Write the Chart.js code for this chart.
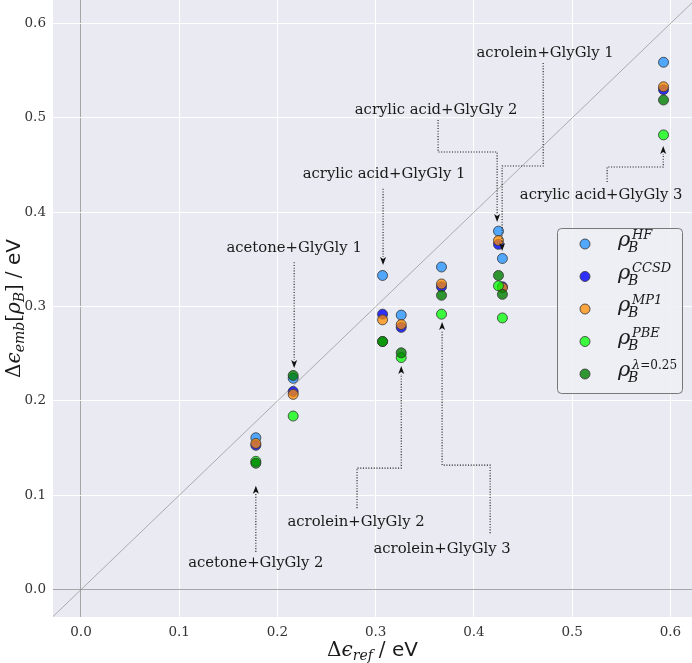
<!DOCTYPE html>
<html>
<head>
<meta charset="utf-8">
<script src="https://cdn.jsdelivr.net/npm/chart.js@4.4.1/dist/chart.umd.min.js"></script>
<style>
  html, body { margin: 0; padding: 0; background: #fff; }
  #grafico { display: block; }
</style>
</head>
<body>
<canvas id="grafico" width="692" height="663"></canvas>
<script>
// valores (eV)
const sistemas = ["acetone+GlyGly 2", "acetone+GlyGly 1", "acrylic acid+GlyGly 1", "acrolein+GlyGly 2",
                  "acrolein+GlyGly 3", "acrylic acid+GlyGly 2", "acrolein+GlyGly 1", "acrylic acid+GlyGly 3"];
const deltaRef  = [0.178, 0.216, 0.307, 0.326, 0.367, 0.425, 0.429, 0.593];
const rhoHF     = [0.161, 0.224, 0.333, 0.291, 0.342, 0.380, 0.351, 0.559];
const rhoCCSD   = [0.153, 0.210, 0.292, 0.278, 0.321, 0.366, 0.321, 0.530];
const rhoMP1    = [0.155, 0.207, 0.286, 0.281, 0.324, 0.370, 0.320, 0.533];
const rhoPBE    = [0.136, 0.184, 0.263, 0.246, 0.292, 0.322, 0.288, 0.482];
const rhoLambda = [0.134, 0.227, 0.263, 0.251, 0.312, 0.333, 0.313, 0.519];
const ticksX = [0.0, 0.1, 0.2, 0.3, 0.4, 0.5, 0.6];
const ticksY = [0.0, 0.1, 0.2, 0.3, 0.4, 0.5, 0.6];
const sobrescritos = ["HF", "CCSD", "MP1", "PBE", "λ=0.25"];

// anotações: posição do texto e caminho da seta, em coordenadas de dados
const anotacoes = [
  { texto: sistemas[0], pos: [0.178, 0.028], caminho: [[0.178, 0.040], [0.178, 0.110]] },
  { texto: sistemas[1], pos: [0.217, 0.362], caminho: [[0.217, 0.347], [0.217, 0.235]] },
  { texto: sistemas[2], pos: [0.3085, 0.4406], caminho: [[0.3075, 0.425], [0.3075, 0.344]] },
  { texto: sistemas[3], pos: [0.280, 0.0716], caminho: [[0.281, 0.0864], [0.281, 0.1288], [0.326, 0.1288], [0.326, 0.237]] },
  { texto: sistemas[4], pos: [0.3676, 0.0429], caminho: [[0.4165, 0.0599], [0.4165, 0.132], [0.3676, 0.132], [0.3676, 0.2837]] },
  { texto: sistemas[5], pos: [0.3615, 0.5085], caminho: [[0.3635, 0.4979], [0.3635, 0.4639], [0.4236, 0.4639], [0.4236, 0.3897]] },
  { texto: sistemas[6], pos: [0.4725, 0.569], caminho: [[0.4705, 0.5583], [0.4705, 0.449], [0.4287, 0.449], [0.4287, 0.359]] },
  { texto: sistemas[7], pos: [0.5295, 0.418], caminho: [[0.5356, 0.4321], [0.5356, 0.448], [0.5927, 0.448], [0.5927, 0.4703]] }
];

const cores = ["rgba(30,144,255,0.75)", "rgba(0,0,255,0.8)", "rgba(255,140,0,0.75)", "rgba(0,255,0,0.75)", "rgba(0,128,0,0.8)"];
const serie = [rhoHF, rhoCCSD, rhoMP1, rhoPBE, rhoLambda];

const SERIF = '"DejaVu Serif", serif';
const SANS = '"DejaVu Sans", sans-serif';

function pontos(valores) {
  return valores.map((v, i) => ({ x: deltaRef[i], y: v }));
}

// desenha texto com trechos de fontes e deslocamentos diferentes
function textoRico(ctx, partes, x, y, alinhar) {
  let largura = 0;
  partes.forEach(p => { ctx.font = p.fonte; p.w = ctx.measureText(p.t).width; largura += p.w + (p.gap || 0); });
  let cx = alinhar === "center" ? x - largura / 2 : x;
  ctx.textAlign = "left";
  ctx.textBaseline = "alphabetic";
  partes.forEach(p => {
    ctx.font = p.fonte;
    ctx.fillText(p.t, cx, y + (p.dy || 0));
    cx += p.w + (p.gap || 0);
  });
}

// área do gráfico ocupando todo o topo, como no original
const areaPlugin = {
  id: "area",
  afterLayout(chart) {
    const a = chart.chartArea;
    const y = chart.scales.y;
    a.top = 0;
    a.right = 692;
    a.height = a.bottom - a.top;
    a.width = a.right - a.left;
    y.top = 0;
    y.height = y.bottom - y.top;
    y.configure();
    const x = chart.scales.x;
    x.right = 692;
    x.width = x.right - x.left;
    x.configure();
  }
};

const fundoPlugin = {
  id: "fundo",
  beforeDraw(chart) {
    const { ctx, chartArea: a } = chart;
    ctx.save();
    ctx.fillStyle = "#EAEAF2";
    ctx.fillRect(a.left, a.top, a.right - a.left, a.bottom - a.top);
    ctx.restore();
  }
};

const anotacoesPlugin = {
  id: "anotacoes",
  afterDatasetsDraw(chart) {
    const { ctx, scales: { x, y } } = chart;
    ctx.save();
    anotacoes.forEach(an => {
      const pts = an.caminho.map(p => [x.getPixelForValue(p[0]), y.getPixelForValue(p[1])]);
      const n = pts.length;
      const [xf, yf] = pts[n - 1];
      const [xa, ya] = pts[n - 2];
      const len = Math.hypot(xf - xa, yf - ya);
      const ux = (xf - xa) / len, uy = (yf - ya) / len;
      const cab = 8;
      ctx.strokeStyle = "#222";
      ctx.lineWidth = 1.1;
      ctx.setLineDash([1.1, 1.6]);
      ctx.beginPath();
      ctx.moveTo(pts[0][0], pts[0][1]);
      for (let i = 1; i < n - 1; i++) ctx.lineTo(pts[i][0], pts[i][1]);
      ctx.lineTo(xf - ux * cab, yf - uy * cab);
      ctx.stroke();
      ctx.setLineDash([]);
      ctx.fillStyle = "#111";
      ctx.beginPath();
      ctx.moveTo(xf, yf);
      ctx.lineTo(xf - ux * cab - uy * 3, yf - uy * cab + ux * 3);
      ctx.lineTo(xf - ux * (cab - 2), yf - uy * (cab - 2));
      ctx.lineTo(xf - ux * cab + uy * 3, yf - uy * cab - ux * 3);
      ctx.closePath();
      ctx.fill();

      ctx.fillStyle = "#1a1a1a";
      ctx.font = "14.8px " + SERIF;
      ctx.textAlign = "center";
      ctx.textBaseline = "middle";
      ctx.fillText(an.texto, x.getPixelForValue(an.pos[0]), y.getPixelForValue(an.pos[1]));
    });
    ctx.restore();
  },
  afterDraw(chart) {
    const { ctx, chartArea: a } = chart;
    ctx.save();
    ctx.fillStyle = "#1a1a1a";
    // título do eixo x
    textoRico(ctx, [
      { t: "Δ", fonte: "20px " + SERIF },
      { t: "ϵ", fonte: "italic 20px " + SERIF },
      { t: "ref", fonte: "italic 14px " + SERIF, dy: 4, gap: 6 },
      { t: "/ ", fonte: "20px " + SERIF },
      { t: "eV", fonte: "20px " + SANS }
    ], (a.left + a.right) / 2, 656, "center");
    // título do eixo y
    ctx.translate(20, (a.top + a.bottom) / 2);
    ctx.rotate(-Math.PI / 2);
    textoRico(ctx, [
      { t: "Δ", fonte: "20px " + SERIF },
      { t: "ϵ", fonte: "italic 20px " + SERIF },
      { t: "emb", fonte: "italic 14px " + SERIF, dy: 4 },
      { t: "[", fonte: "20px " + SERIF },
      { t: "ρ", fonte: "italic 20px " + SERIF },
      { t: "B", fonte: "italic 14px " + SERIF, dy: 4 },
      { t: "]", fonte: "20px " + SERIF, gap: 6 },
      { t: "/ ", fonte: "20px " + SERIF },
      { t: "eV", fonte: "20px " + SANS }
    ], 0, 0, "center");
    ctx.restore();

    // legenda
    ctx.save();
    const caixa = { x: 557, y: 228, w: 125, h: 165 };
    ctx.fillStyle = "rgba(238,238,245,0.9)";
    ctx.strokeStyle = "#777";
    ctx.lineWidth = 1;
    ctx.beginPath();
    ctx.roundRect(caixa.x + 0.5, caixa.y + 0.5, caixa.w, caixa.h, 4);
    ctx.fill();
    ctx.stroke();
    sobrescritos.forEach((s, i) => {
      const yl = 244 + i * 32.5;
      ctx.beginPath();
      ctx.arc(585, yl, 5, 0, Math.PI * 2);
      ctx.fillStyle = cores[i];
      ctx.fill();
      ctx.strokeStyle = "#333";
      ctx.lineWidth = 0.8;
      ctx.stroke();
      ctx.fillStyle = "#1a1a1a";
      ctx.textAlign = "left";
      ctx.textBaseline = "alphabetic";
      ctx.font = "italic 21px " + SERIF;
      ctx.fillText("ρ", 618, yl + 2);
      ctx.font = "italic 14px " + SERIF;
      ctx.fillText("B", 628, yl + 8);
      if (s.startsWith("λ")) {
        textoRico(ctx, [
          { t: "λ", fonte: "italic 13px " + SERIF },
          { t: "=0.25", fonte: "12px " + SERIF }
        ], 632, yl - 5, "left");
      } else {
        ctx.font = "italic 13px " + SERIF;
        ctx.fillText(s, 632, yl - 5);
      }
    });
    ctx.restore();
  }
};

const datasets = serie.map((valores, i) => ({
  type: "scatter",
  label: sobrescritos[i],
  data: pontos(valores),
  backgroundColor: cores[i],
  borderColor: "#333",
  borderWidth: 0.8,
  pointRadius: 5,
  pointHoverRadius: 5,
  order: 4 - i
}));

datasets.push({
  type: "line",
  label: "diagonal",
  data: [{ x: -0.1, y: -0.1 }, { x: 0.7, y: 0.7 }],
  borderColor: "rgba(120,120,120,0.8)",
  borderWidth: 0.7,
  pointRadius: 0,
  order: 10
});

function eixo(min, max, valores) {
  return {
    type: "linear",
    min: min,
    max: max,
    afterBuildTicks: s => { s.ticks = valores.map(v => ({ value: v })); },
    ticks: {
      callback: v => v.toFixed(1),
      color: "#333",
      font: { family: SERIF, size: 13.5 },
      padding: 7
    },
    grid: {
      color: c => (c.tick && c.tick.value === 0 ? "#a6a6a6" : "#ffffff"),
      lineWidth: 1,
      drawTicks: false
    },
    border: { display: false }
  };
}

const escalaX = eixo(-0.0285, 0.622, ticksX);
escalaX.afterFit = s => { s.height = 46; };
const escalaY = eixo(-0.029, 0.625, ticksY);
escalaY.afterFit = s => { s.width = 53; };

new Chart(document.getElementById("grafico").getContext("2d"), {
  type: "scatter",
  data: { datasets: datasets },
  options: {
    responsive: false,
    animation: false,
    devicePixelRatio: 1,
    layout: { padding: 0, autoPadding: false },
    scales: { x: escalaX, y: escalaY },
    plugins: {
      legend: { display: false },
      tooltip: { enabled: false }
    }
  },
  plugins: [areaPlugin, fundoPlugin, anotacoesPlugin]
});
</script>
</body>
</html>
